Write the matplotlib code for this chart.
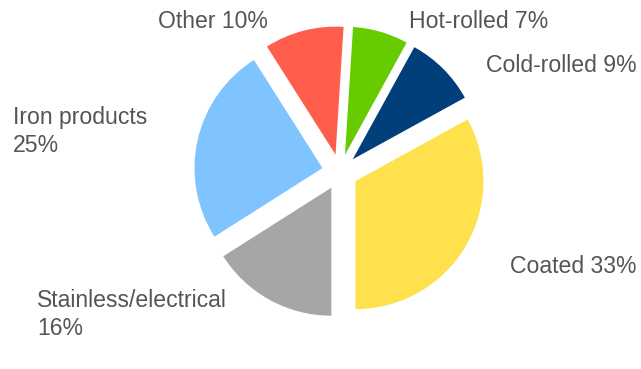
import matplotlib
matplotlib.use("Agg")
import matplotlib.pyplot as plt

categories = ["Hot-rolled", "Cold-rolled", "Coated", "Stainless/electrical", "Iron products", "Other"]
values = [7, 9, 33, 16, 25, 10]
colors = ["#66CC00", "#003F7A", "#FFE14D", "#A6A6A6", "#80C4FF", "#FF5E4D"]
label_texts = ["Hot-rolled 7%", "Cold-rolled 9%", "Coated 33%",
               "Stainless/electrical\n16%", "Iron products\n25%", "Other 10%"]
# label anchor positions in pixels (left x, first-line baseline y from top)
label_pos = [(409, 28), (486, 72), (510, 273), (37, 335), (13, 152), (158, 28)]

W, H = 641, 369
plt.rcParams['font.family'] = ['Liberation Sans', 'DejaVu Sans']
fig = plt.figure(figsize=(W / 100, H / 100), dpi=100)
ax = fig.add_axes([0, 0, 1, 1])
cx, cy, R = 340, 172, 128

ax.pie(values, colors=colors, startangle=86.4, counterclock=False,
       explode=[0.14] * len(values), radius=1.0,
       wedgeprops=dict(linewidth=0))

ax.set_xlim((0 - cx) / R, (W - cx) / R)
ax.set_ylim(-(H - cy) / R, cy / R)
ax.set_aspect('equal', adjustable='datalim')
ax.axis('off')

for txt, (px, py) in zip(label_texts, label_pos):
    fig.text(px / W, 1 - py / H, txt, ha='left', va='baseline',
             fontsize=16.6, color='#555555', linespacing=1.3)

fig.savefig("out.png", dpi=100)
